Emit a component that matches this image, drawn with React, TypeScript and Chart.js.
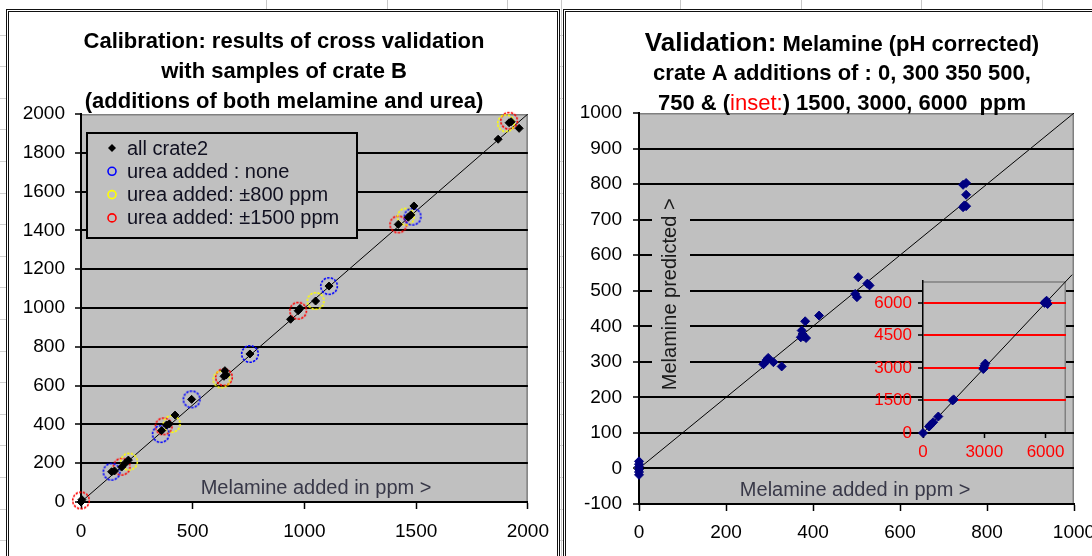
import React, { useEffect, useRef } from "react";
import { Chart, registerables } from "chart.js";

Chart.register(...registerables);

const FONT = '"Liberation Sans", Arial, Helvetica, sans-serif';
const NAVY = "#000080";
const PLOT_BG = "#C0C0C0";

// ---------------- Calibration panel (left) ----------------
const calTitleLines = [
  "Calibration: results of cross validation",
  "with samples of crate B",
  "(additions of both melamine and urea)",
];
const calLegendLabels = [
  "all crate2",
  "urea added : none",
  "urea added: \u00b1800 ppm",
  "urea added: \u00b11500 ppm",
];
const calMin = 0;
const calMax = 2000;
const calXTicks = [0, 500, 1000, 1500, 2000];
const calYTicks = [0, 200, 400, 600, 800, 1000, 1200, 1400, 1600, 1800, 2000];

const calAllX = [0, 4, 137, 150, 182, 197, 212, 361, 383, 395, 421, 495, 640, 644, 650, 756, 938, 972, 980, 1050, 1110, 1420, 1465, 1476, 1490, 1867, 1916, 1925, 1961];
const calAllY = [0, 12, 156, 160, 180, 199, 216, 368, 397, 402, 448, 529, 648, 677, 655, 763, 942, 986, 998, 1036, 1113, 1431, 1468, 1480, 1526, 1870, 1955, 1960, 1926];
const calNoneX = [137, 357, 495, 756, 1110, 1484];
const calNoneY = [156, 350, 529, 763, 1113, 1471];
const cal800X = [215, 406, 629, 1050, 1454, 1902];
const cal800Y = [208, 402, 632, 1036, 1471, 1952];
const cal1500X = [0, 182, 370, 640, 972, 1420, 1916];
const cal1500Y = [8, 182, 390, 643, 986, 1431, 1965];
const calDiagX = [0, 2000];
const calDiagY = [0, 2000];

// ---------------- Validation panel (right) ----------------
const valTitleA = "Validation:";
const valTitleB = " Melamine (pH corrected)";
const valTitle2 = "crate A additions of : 0, 300 350 500,";
const valTitle3 = ["750 & (", "inset:", ") 1500, 3000, 6000  ppm"];
const xAxisTitle = "Melamine added in ppm >";
const yAxisTitle = "Melamine predicted >";

const valXMin = 0;
const valXMax = 1000;
const valYMin = -100;
const valYMax = 1000;
const valXTicks = [0, 200, 400, 600, 800, 1000];
const valYTicks = [-100, 0, 100, 200, 300, 400, 500, 600, 700, 800, 900, 1000];

const valX = [0, 0, 0, 0, 0, 0, 286, 290, 294, 297, 309, 328, 372, 374, 376, 378, 382, 384, 414, 497, 501, 504, 525, 530, 745, 752, 752, 745, 752, 748];
const valY = [20, 12, 5, -3, -10, -18, 293, 299, 306, 311, 299, 287, 369, 388, 378, 372, 414, 367, 430, 491, 482, 538, 520, 515, 798, 803, 770, 735, 738, 740];
const valDiagX = [0, 1000];
const valDiagY = [0, 1000];

// inset
const insetMin = 0;
const insetMax = 7000;
const insetXTicks = [0, 3000, 6000];
const insetYTicks = [0, 1500, 3000, 4500, 6000];
const insetX = [0, 300, 380, 500, 750, 1450, 1500, 2950, 2980, 3000, 3050, 5950, 6000, 6050, 6100];
const insetY = [0, 300, 390, 500, 760, 1500, 1550, 2950, 3000, 3100, 3200, 6000, 6050, 6100, 5950];
const insetDiagX = [0, 7300];
const insetDiagY = [0, 7300];

// spreadsheet cell lines visible around the chart objects
const sheetColumns = [266, 387, 507, 561, 680, 801, 921, 1042];

const pts = (xs: number[], ys: number[]) => xs.map((x, i) => ({ x, y: ys[i] }));

function ring(color: string, r: number, lw: number, dash: number[]) {
  const c = document.createElement("canvas");
  const s = Math.ceil(r * 2 + lw * 2 + 2);
  c.width = s;
  c.height = s;
  const g = c.getContext("2d")!;
  g.strokeStyle = color;
  g.lineWidth = lw;
  g.setLineDash(dash);
  g.beginPath();
  g.arc(s / 2, s / 2, r, 0, Math.PI * 2);
  g.stroke();
  return c;
}

type Run = { text: string; size: number; bold: boolean; color: string };

function drawRuns(ctx: CanvasRenderingContext2D, runs: Run[], cx: number, baseline: number) {
  const fontOf = (r: Run) => `${r.bold ? "bold " : ""}${r.size}px ${FONT}`;
  const widths = runs.map((r) => {
    ctx.font = fontOf(r);
    return ctx.measureText(r.text).width;
  });
  const total = widths.reduce((a, b) => a + b, 0);
  let x = cx - total / 2;
  ctx.textAlign = "left";
  ctx.textBaseline = "alphabetic";
  runs.forEach((r, i) => {
    ctx.font = fontOf(r);
    ctx.fillStyle = r.color;
    ctx.fillText(r.text, x, baseline);
    x += widths[i];
  });
}

const plotFrame = {
  id: "plotFrame",
  beforeDraw(chart: any) {
    const { ctx, chartArea: a } = chart;
    ctx.save();
    ctx.fillStyle = PLOT_BG;
    ctx.fillRect(a.left, a.top, a.right - a.left, a.bottom - a.top);
    ctx.strokeStyle = "#808080";
    ctx.lineWidth = 1.5;
    ctx.beginPath();
    ctx.moveTo(a.left, a.top + 0.75);
    ctx.lineTo(a.right - 0.75, a.top + 0.75);
    ctx.lineTo(a.right - 0.75, a.bottom);
    ctx.stroke();
    ctx.restore();
  },
};

function xTitlePlugin(frac: number, up: number) {
  return {
    id: "xTitle",
    afterDatasetsDraw(chart: any) {
      const { ctx, chartArea: a } = chart;
      ctx.save();
      ctx.font = `20px ${FONT}`;
      ctx.fillStyle = "#383848";
      ctx.textAlign = "center";
      ctx.textBaseline = "middle";
      ctx.fillText(xAxisTitle, a.left + frac * (a.right - a.left), a.bottom - up);
      ctx.restore();
    },
  };
}

function baseScale(min: number, max: number, tickValues: number[], fontSize: number, color: string) {
  return {
    type: "linear" as const,
    min,
    max,
    afterBuildTicks: (axis: any) => {
      axis.ticks = tickValues.map((value) => ({ value }));
    },
    ticks: {
      autoSkip: false,
      maxRotation: 0,
      color,
      font: { family: FONT, size: fontSize },
      callback: (v: any) => String(v),
    },
    border: { display: true, color: "#000", width: 2 },
  };
}

export default function App() {
  const leftRef = useRef<HTMLCanvasElement>(null);
  const rightRef = useRef<HTMLCanvasElement>(null);
  const insetRef = useRef<HTMLCanvasElement>(null);

  useEffect(() => {
    const charts: Chart[] = [];
    const blueRing = ring("#0000FF", 8.3, 1.6, [2.4, 1.3]);
    const yellowRing = ring("#FFFF00", 8.3, 1.6, [2.4, 1.3]);
    const redRing = ring("#FF0000", 8.3, 1.6, [2.4, 1.3]);

    // ---------- left chart ----------
    const calTitle = {
      id: "calTitle",
      afterDraw(chart: any) {
        const ctx = chart.ctx;
        ctx.save();
        ctx.font = `bold 22px ${FONT}`;
        ctx.fillStyle = "#000";
        ctx.textAlign = "center";
        ctx.textBaseline = "alphabetic";
        calTitleLines.forEach((t, i) => ctx.fillText(t, 284, 48 + i * 30));
        ctx.restore();
      },
    };
    const calLegend = {
      id: "calLegend",
      afterDraw(chart: any) {
        const ctx = chart.ctx;
        const bx = 87, by = 133, bw = 270, bh = 105;
        ctx.save();
        ctx.fillStyle = PLOT_BG;
        ctx.fillRect(bx, by, bw, bh);
        ctx.strokeStyle = "#000";
        ctx.lineWidth = 2;
        ctx.strokeRect(bx, by, bw, bh);
        ctx.font = `20px ${FONT}`;
        ctx.textAlign = "left";
        ctx.textBaseline = "middle";
        const colors = ["#000", "#0000FF", "#FFFF00", "#FF0000"];
        calLegendLabels.forEach((label, i) => {
          const y = 148 + i * 23.3;
          const mx = 112;
          if (i === 0) {
            ctx.fillStyle = "#000";
            ctx.beginPath();
            ctx.moveTo(mx, y - 4);
            ctx.lineTo(mx + 4, y);
            ctx.lineTo(mx, y + 4);
            ctx.lineTo(mx - 4, y);
            ctx.closePath();
            ctx.fill();
          } else {
            ctx.strokeStyle = colors[i];
            ctx.lineWidth = 1.6;
            ctx.beginPath();
            ctx.arc(mx, y, 4, 0, Math.PI * 2);
            ctx.stroke();
          }
          ctx.fillStyle = "#101020";
          ctx.fillText(label, 127, y + 1);
        });
        ctx.restore();
      },
    };

    const calY = baseScale(calMin, calMax, calYTicks, 19, "#000");
    const calX = baseScale(calMin, calMax, calXTicks, 19, "#000");
    charts.push(
      new Chart(leftRef.current!, {
        type: "scatter",
        data: {
          datasets: [
            { label: calLegendLabels[0], data: pts(calAllX, calAllY), pointStyle: "rectRot", pointRadius: 4, backgroundColor: "#000", borderColor: "#000", borderWidth: 1, order: 1, clip: false } as any,
            { label: calLegendLabels[1], data: pts(calNoneX, calNoneY), pointStyle: blueRing, pointRadius: 9, order: 2, clip: false },
            { label: calLegendLabels[2], data: pts(cal800X, cal800Y), pointStyle: yellowRing, pointRadius: 9, order: 3, clip: false },
            { label: calLegendLabels[3], data: pts(cal1500X, cal1500Y), pointStyle: redRing, pointRadius: 9, order: 4, clip: false },
            { label: "y=x", data: pts(calDiagX, calDiagY), showLine: true, borderColor: "#000", borderWidth: 1, pointRadius: 0, fill: false, order: 10 },
          ],
        },
        options: {
          animation: false,
          responsive: false,
          devicePixelRatio: 1,
          layout: { padding: { left: 0, right: 32, top: 114, bottom: 0 } },
          plugins: { legend: { display: false }, tooltip: { enabled: false }, title: { display: false } },
          scales: {
            x: {
              ...calX,
              ticks: { ...calX.ticks, padding: 11 },
              grid: { drawOnChartArea: false, drawTicks: true, tickLength: 7, tickColor: "#000", tickWidth: 1.5 },
              afterFit: (s: any) => { s.height = 54; },
            },
            y: {
              ...calY,
              ticks: { ...calY.ticks, padding: 10 },
              grid: {
                color: (c: any) => (c.tick && c.tick.value > calMin && c.tick.value < calMax ? "#000" : "rgba(0,0,0,0)"),
                lineWidth: 2,
                tickLength: 6,
                tickColor: "#000",
                tickWidth: 1.5,
              },
              afterFit: (s: any) => { s.width = 81; },
            },
          },
        } as any,
        plugins: [plotFrame, xTitlePlugin(0.526, 14), calTitle, calLegend],
      })
    );

    // ---------- right chart ----------
    const valTitle = {
      id: "valTitle",
      afterDraw(chart: any) {
        const ctx = chart.ctx;
        const cx = 282;
        ctx.save();
        drawRuns(ctx, [
          { text: valTitleA, size: 26, bold: true, color: "#000" },
          { text: valTitleB, size: 22, bold: true, color: "#000" },
        ], cx, 51);
        drawRuns(ctx, [{ text: valTitle2, size: 22, bold: true, color: "#000" }], cx, 80);
        drawRuns(ctx, [
          { text: valTitle3[0], size: 22, bold: true, color: "#000" },
          { text: valTitle3[1], size: 22, bold: false, color: "#FF0000" },
          { text: valTitle3[2], size: 22, bold: true, color: "#000" },
        ], cx, 110);
        ctx.restore();
      },
    };
    const valYTitle = {
      id: "valYTitle",
      afterDatasetsDraw(chart: any) {
        const { ctx, chartArea: a, scales } = chart;
        const cy = scales.y.getPixelForValue(490);
        ctx.save();
        ctx.font = `20px ${FONT}`;
        const w = ctx.measureText(yAxisTitle).width;
        ctx.fillStyle = PLOT_BG;
        ctx.fillRect(a.left + 13, cy - w / 2 - 3, 38, w + 6);
        ctx.translate(a.left + 31, cy);
        ctx.rotate(-Math.PI / 2);
        ctx.fillStyle = "#1a1a1a";
        ctx.textAlign = "center";
        ctx.textBaseline = "middle";
        ctx.fillText(yAxisTitle, 0, 0);
        ctx.restore();
      },
    };
    const valYs = baseScale(valYMin, valYMax, valYTicks, 19, "#000");
    const valXs = baseScale(valXMin, valXMax, valXTicks, 19, "#000");
    charts.push(
      new Chart(rightRef.current!, {
        type: "scatter",
        data: {
          datasets: [
            { label: "validation", data: pts(valX, valY), pointStyle: "rectRot", pointRadius: 4.5, backgroundColor: NAVY, borderColor: NAVY, borderWidth: 1, order: 1, clip: false } as any,
            { label: "y=x", data: pts(valDiagX, valDiagY), showLine: true, borderColor: "#000", borderWidth: 1, pointRadius: 0, fill: false, order: 10 },
          ],
        },
        options: {
          animation: false,
          responsive: false,
          devicePixelRatio: 1,
          layout: { padding: { left: 0, right: 46, top: 113, bottom: 0 } },
          plugins: { legend: { display: false }, tooltip: { enabled: false }, title: { display: false } },
          scales: {
            x: {
              ...valXs,
              ticks: { ...valXs.ticks, padding: 10 },
              grid: { drawOnChartArea: false, drawTicks: true, tickLength: 7, tickColor: "#000", tickWidth: 1.5 },
              afterFit: (s: any) => { s.height = 52; },
            },
            y: {
              ...valYs,
              ticks: { ...valYs.ticks, padding: 11 },
              grid: {
                color: (c: any) => (c.tick && c.tick.value > valYMin && c.tick.value < valYMax ? "#000" : "rgba(0,0,0,0)"),
                lineWidth: 2,
                tickLength: 6,
                tickColor: "#000",
                tickWidth: 1.5,
              },
              afterFit: (s: any) => { s.width = 79; },
            },
          },
        } as any,
        plugins: [plotFrame, xTitlePlugin(0.497, 14), valYTitle, valTitle],
      })
    );

    // ---------- inset chart ----------
    const inY = baseScale(insetMin, insetMax, insetYTicks, 17, "#FF0000");
    const inX = baseScale(insetMin, insetMax, insetXTicks, 17, "#FF0000");
    charts.push(
      new Chart(insetRef.current!, {
        type: "scatter",
        data: {
          datasets: [
            { label: "inset", data: pts(insetX, insetY), pointStyle: "rectRot", pointRadius: 4.5, backgroundColor: NAVY, borderColor: NAVY, borderWidth: 1, order: 1, clip: false } as any,
            { label: "y=x", data: pts(insetDiagX, insetDiagY), showLine: true, borderColor: "#000", borderWidth: 1, pointRadius: 0, fill: false, order: 10, clip: false } as any,
          ],
        },
        options: {
          animation: false,
          responsive: false,
          devicePixelRatio: 1,
          layout: { padding: { left: 0, right: 14, top: 13, bottom: 0 } },
          plugins: { legend: { display: false }, tooltip: { enabled: false }, title: { display: false } },
          scales: {
            x: {
              ...inX,
              border: { display: true, color: "#000", width: 1.5 },
              ticks: { ...inX.ticks, padding: 4 },
              grid: { drawOnChartArea: false, drawTicks: true, tickLength: 5, tickColor: "#000", tickWidth: 1.5 },
              afterFit: (s: any) => { s.height = 37; },
            },
            y: {
              ...inY,
              border: { display: true, color: "#000", width: 1.5 },
              ticks: { ...inY.ticks, padding: 6 },
              grid: {
                color: (c: any) => (c.tick && c.tick.value > insetMin ? "#FF0000" : "rgba(0,0,0,0)"),
                lineWidth: 2,
                tickLength: 5,
                tickColor: "#000",
                tickWidth: 1.5,
              },
              afterFit: (s: any) => { s.width = 63; },
            },
          },
        } as any,
        plugins: [plotFrame],
      })
    );

    return () => charts.forEach((c) => c.destroy());
  }, []);

  const abs = (l: number, t: number, w: number, h: number): React.CSSProperties => ({
    position: "absolute",
    left: l,
    top: t,
    width: w,
    height: h,
  });

  return (
    <div
      style={{
        position: "fixed",
        left: 0,
        top: 0,
        width: 1092,
        height: 556,
        overflow: "hidden",
        background: "#fff",
        backgroundImage:
          "repeating-linear-gradient(180deg, rgba(0,0,0,0) 0px, rgba(0,0,0,0) 30.6px, #d0d0d0 30.6px, #d0d0d0 31.6px)",
        backgroundPosition: "0 4px",
      }}
    >
      {sheetColumns.map((x) => (
        <div key={x} style={{ ...abs(x, 0, 1, 556), background: "#c8c8c8" }} />
      ))}
      <div style={{ ...abs(6, 9, 554, 620), boxSizing: "border-box", border: "3px double #111", background: "#fff" }} />
      <div style={{ ...abs(563, 9, 620, 620), boxSizing: "border-box", border: "3px double #111", background: "#fff" }} />
      <canvas ref={leftRef} width={560} height={556} style={{ ...abs(0, 0, 560, 556), display: "block" }} />
      <canvas ref={rightRef} width={560} height={556} style={{ ...abs(560, 0, 560, 556), display: "block" }} />
      <canvas ref={insetRef} width={220} height={205} style={{ ...abs(860, 265, 220, 205), display: "block" }} />
    </div>
  );
}
